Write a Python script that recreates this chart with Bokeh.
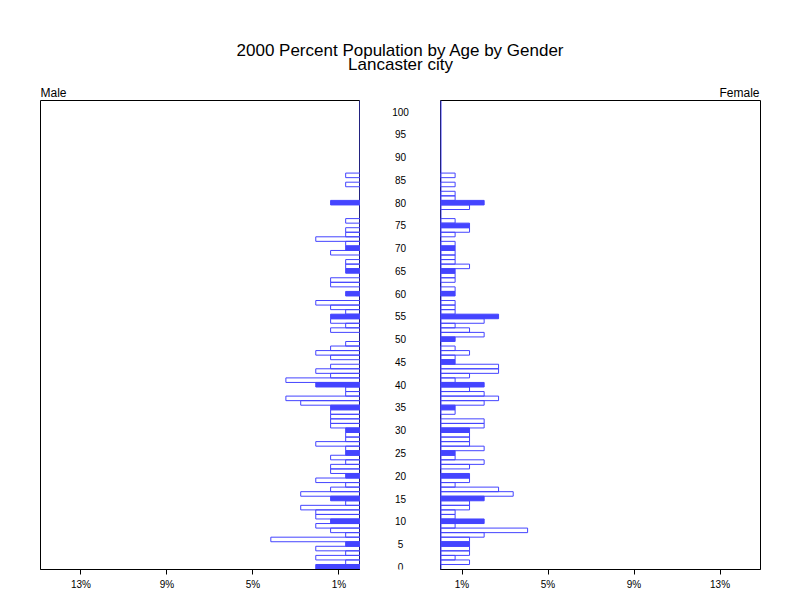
from bokeh.plotting import figure
from bokeh.layouts import column, row
from bokeh.models import Range1d, FixedTicker, Label, ColumnDataSource, Span
from bokeh.embed import file_html
from bokeh.resources import INLINE
from bokeh.core.properties import value

# ---------------- data ----------------
title_line1 = "2000 Percent Population by Age by Gender"
title_line2 = "Lancaster city"
male_label = "Male"
female_label = "Female"

ages = list(range(0, 101))

male_pct = [
    2.08, 0.69, 2.08, 0.69, 2.08, 0.69, 4.17, 0.69, 1.39, 2.08,
    1.39, 2.08, 2.08, 2.78, 0.69, 1.39, 2.78, 1.39, 0.69, 2.08,
    0.69, 1.39, 1.39, 0.69, 1.39, 0.69, 0.69, 2.08, 0.69, 0.69,
    0.69, 1.39, 1.39, 1.39, 1.39, 1.39, 2.78, 3.47, 0.69, 0.69,
    2.08, 3.47, 1.39, 2.08, 1.39, 0.00, 1.39, 2.08, 1.39, 0.69,
    0.00, 0.00, 1.39, 0.69, 1.39, 1.39, 0.69, 1.39, 2.08, 0.00,
    0.69, 0.00, 1.39, 1.39, 0.00, 0.69, 0.69, 0.69, 0.00, 1.39,
    0.69, 0.69, 2.08, 0.69, 0.69, 0.00, 0.69, 0.00, 0.00, 0.00,
    1.39, 0.00, 0.00, 0.00, 0.69, 0.00, 0.69, 0.00, 0.00, 0.00,
    0.00, 0.00, 0.00, 0.00, 0.00, 0.00, 0.00, 0.00, 0.00, 0.00,
    0.00,
]

female_pct = [
    0.00, 1.35, 0.68, 1.35, 1.35, 1.35, 1.35, 2.03, 4.05, 0.68,
    2.03, 0.68, 0.68, 1.35, 1.35, 2.03, 3.38, 2.70, 0.68, 1.35,
    1.35, 0.00, 1.35, 2.03, 0.68, 0.68, 2.03, 1.35, 1.35, 1.35,
    1.35, 2.03, 2.03, 0.00, 0.68, 0.68, 2.03, 2.70, 2.03, 1.35,
    2.03, 0.68, 1.35, 2.70, 2.70, 0.68, 0.68, 1.35, 0.68, 0.00,
    0.68, 2.03, 1.35, 0.68, 2.03, 2.70, 0.68, 0.68, 0.68, 0.00,
    0.68, 0.68, 0.00, 0.68, 0.68, 0.68, 1.35, 0.68, 0.68, 0.68,
    0.68, 0.68, 0.00, 0.68, 1.35, 1.35, 0.68, 0.00, 0.00, 1.35,
    2.03, 0.68, 0.68, 0.00, 0.68, 0.00, 0.68, 0.00, 0.00, 0.00,
    0.00, 0.00, 0.00, 0.00, 0.00, 0.00, 0.00, 0.00, 0.00, 0.00,
    0.00,
]

age_ticks = [0, 5, 10, 15, 20, 25, 30, 35, 40, 45, 50,
             55, 60, 65, 70, 75, 80, 85, 90, 95, 100]
age_tick_labels = [str(a) for a in age_ticks]

x_ticks = [1, 5, 9, 13]
x_tick_labels = ["1%", "5%", "9%", "13%"]

# ---------------- style ----------------
BLUE = "#4444FF"
FONT = "Liberation Sans"
X_MAX = 14.88
Y_MIN, Y_MAX = -0.6, 102.45
PANEL_H = 2 + 471 + 21


def split(values):
    filled = {"age": [], "pct": []}
    hollow = {"age": [], "pct": []}
    for a, v in zip(ages, values):
        if v <= 0:
            continue
        tgt = filled if a % 5 == 0 else hollow
        tgt["age"].append(a)
        tgt["pct"].append(v)
    return ColumnDataSource(filled), ColumnDataSource(hollow)


def panel(values, x_range, width, border_left, border_right):
    p = figure(width=width, height=PANEL_H, x_range=x_range,
               y_range=Range1d(Y_MIN, Y_MAX), output_backend="svg",
               toolbar_location=None, title=None, y_axis_location=None,
               min_border_left=border_left, min_border_right=border_right,
               min_border_top=2, min_border_bottom=21)
    p.grid.visible = False
    p.outline_line_color = "black"
    p.outline_line_width = 1
    p.background_fill_color = "white"
    p.border_fill_color = "white"
    filled, hollow = split(values)
    p.hbar(y="age", left=0, right="pct", height=1, source=hollow,
           fill_color=None, line_color=BLUE, line_width=1)
    p.hbar(y="age", left=0, right="pct", height=1, source=filled,
           fill_color=BLUE, line_color=BLUE, line_width=1)
    p.add_layout(Span(location=0, dimension="height", line_color=BLUE,
                      line_width=2))
    ax = p.xaxis[0]
    ax.ticker = FixedTicker(ticks=x_ticks)
    ax.major_label_overrides = dict(zip(x_ticks, x_tick_labels))
    ax.minor_tick_line_color = None
    ax.major_tick_in = 0
    ax.major_tick_out = 5
    ax.major_tick_line_color = "black"
    ax.axis_line_color = "black"
    ax.major_label_standoff = 4
    ax.major_label_text_font = FONT
    ax.major_label_text_font_size = "10px"
    ax.major_label_text_color = "black"
    return p


male = panel(male_pct, Range1d(X_MAX, 0), 360, 40, 0)
female = panel(female_pct, Range1d(0, X_MAX), 352, 0, 32)

# middle age labels
mid = figure(width=80, height=PANEL_H, x_range=Range1d(-1, 1),
             y_range=Range1d(Y_MIN, Y_MAX), output_backend="svg",
             toolbar_location=None, title=None, x_axis_location=None,
             y_axis_location=None, min_border_left=0, min_border_right=0,
             min_border_top=2, min_border_bottom=21)
mid.grid.visible = False
mid.outline_line_color = None
mid.text(x=[0] * len(age_ticks), y=age_ticks, text=age_tick_labels,
         text_align="center", text_baseline="middle",
         text_font=value(FONT), text_font_size="10px",
         text_color="black")

# title area
top = figure(width=792, height=98, x_range=Range1d(0, 792),
             y_range=Range1d(0, 98), output_backend="svg",
             toolbar_location=None, title=None, x_axis_location=None,
             y_axis_location=None, min_border=0)
top.grid.visible = False
top.outline_line_color = None
top.add_layout(Label(x=400, y=48, text=title_line1, text_align="center",
                     text_baseline="middle", text_font=FONT,
                     text_font_size="17px", text_color="black"))
top.add_layout(Label(x=400, y=34, text=title_line2, text_align="center",
                     text_baseline="middle", text_font=FONT,
                     text_font_size="17px", text_color="black"))
top.add_layout(Label(x=40, y=6, text=male_label, text_align="left",
                     text_baseline="middle", text_font=FONT,
                     text_font_size="12px", text_color="black"))
top.add_layout(Label(x=759, y=6, text=female_label, text_align="right",
                     text_baseline="middle", text_font=FONT,
                     text_font_size="12px", text_color="black"))

layout = column(top, row(male, mid, female, spacing=0), spacing=0)

open("out.html", "w").write(file_html(layout, INLINE))
